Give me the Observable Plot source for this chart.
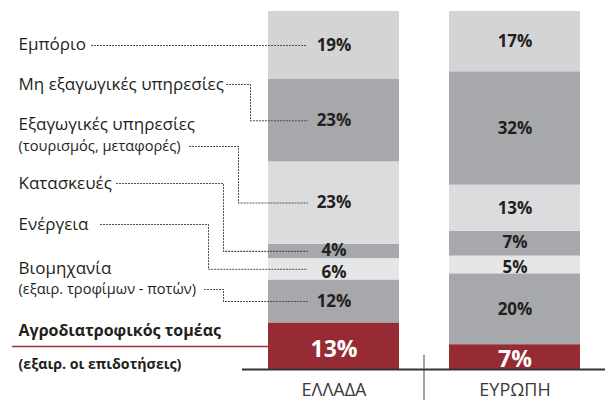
<!DOCTYPE html>
<html><head><meta charset="utf-8">
<script src="https://cdn.jsdelivr.net/npm/d3@7"></script>
<script src="https://cdn.jsdelivr.net/npm/@observablehq/plot@0.6"></script>
<style>
html,body{margin:0;padding:0;background:#fff;}
#chart svg{display:block;}
</style></head><body><div id="chart"></div>
<script>
// ---- data (stack order: bottom to top) ----
const regions = ["ΕΛΛΑΔΑ", "ΕΥΡΩΠΗ"];
const sectors = ["Αγροδιατροφικός τομέας", "Βιομηχανία", "Ενέργεια", "Κατασκευές", "Εξαγωγικές υπηρεσίες", "Μη εξαγωγικές υπηρεσίες", "Εμπόριο"];
const sectorNotes = ["(εξαιρ. οι επιδοτήσεις)", "(εξαιρ. τροφίμων - ποτών)", "", "", "(τουρισμός, μεταφορές)", "", ""];
const greece = [13, 12, 6, 4, 23, 23, 19];
const europe = [7, 20, 5, 7, 13, 32, 17];

// ---- styles ----
const segmentColors = ["#962b33", "#a7a8ab", "#e6e6e8", "#a7a8ab", "#dcdcde", "#a7a8ab", "#d4d4d6"];
const labelShift = [3, 0, 3, -1, 0, 0, 0]; // small vertical nudges of the value labels
const ink = "#231f20";
const font = "Open Sans";

const W = 608, H = 400;
const xOpts = {type: "band", domain: regions, range: [242, 605], paddingInner: 50 / 181, paddingOuter: 25.5 / 181, align: 0.5};
const yOpts = {domain: [0, 1], range: [369, 11]};
const xS = Plot.scale({x: xOpts});
const yS = Plot.scale({y: yOpts});
// Plot shifts marks by half a band when x is a band scale; compensate for unscaled annotation x
const bandShift = xS.bandwidth / 2;

const rows = regions.flatMap((r, ri) => sectors.map((s, i) => ({
  region: r, sector: s, idx: i, value: [greece, europe][ri][i]
})));

// left-hand label layout (pixel rows), leader start & elbow x
const layout = [
  {idx: 6, y: 44, start: 91, elbow: null},
  {idx: 5, y: 84, start: 226, elbow: 250},
  {idx: 4, y: 124, noteY: 146, start: 189, elbow: 238},
  {idx: 3, y: 183, start: 116, elbow: 223},
  {idx: 2, y: 224, start: 100, elbow: 208},
  {idx: 1, y: 268, noteY: 289, start: 204, elbow: 223},
  {idx: 0, y: 330, noteY: 364, bold: true}
];

const total = d3.sum(greece);
const cum = d3.cumsum(greece);
const centerPx = i => yS.apply((cum[i] - greece[i] / 2) / total);
const gLeft = xS.apply(regions[0]);
const gCenter = gLeft + xS.bandwidth / 2;
const leaderEnd = gCenter - 26;
const sepX = (xS.apply(regions[0]) + xS.bandwidth + xS.apply(regions[1])) / 2;

const labelRows = [], boldRows = [];
const leaders = [];
for (const L of layout) {
  const target = L.bold ? boldRows : labelRows;
  target.push({text: sectors[L.idx], y: L.y, size: L.bold ? 16 : 17});
  if (sectorNotes[L.idx]) target.push({text: sectorNotes[L.idx], y: L.noteY, size: L.bold ? 14.2 : 14.6});
  if (L.idx === 0) continue;
  const ty = centerPx(L.idx);
  const ly = L.noteY ?? L.y;
  const pts = L.elbow == null
    ? [[L.start, ty], [leaderEnd, ty]]
    : [[L.start, ly], [L.elbow, ly], [L.elbow, ty], [leaderEnd, ty]];
  pts.forEach(([px, py]) => leaders.push({k: L.idx, px: px - bandShift, py}));
}
const redLine = [{px: 12 - bandShift, py: 346}, {px: gLeft - bandShift, py: 346}];
const sep = [{px: sepX - bandShift, py1: 355, py2: 400}];
const leftX = 18 - bandShift;

const valueText = (sel, opts) => Plot.text(rows, Plot.stackY({x: "region", y: "value", offset: "normalize",
  text: d => sel(d) ? d.value + "%" : null, ...opts}));

const chart = Plot.plot({
  width: W, height: H,
  marginTop: 11, marginBottom: 31, marginLeft: 242, marginRight: 3,
  style: {fontFamily: font, background: "#fff"},
  x: {...xOpts, axis: null},
  y: {...yOpts, axis: null},
  color: {domain: sectors, range: segmentColors},
  marks: [
    Plot.barY(rows, Plot.stackY({x: "region", y: "value", fill: "sector", offset: "normalize"})),
    Plot.line(leaders, {x: {value: "px", scale: null}, y: {value: "py", scale: null}, z: "k",
      stroke: "#4a4a4a", strokeWidth: 1.1, strokeDasharray: "1.1 1.9", curve: "linear"}),
    Plot.line(redLine, {x: {value: "px", scale: null}, y: {value: "py", scale: null}, stroke: "#a3323b", strokeWidth: 1.6}),
    ...[1, 2, 3, 4, 5, 6].map(k => valueText(d => d.idx === k, {fill: ink, fontSize: 17, fontWeight: 700, dy: labelShift[k]})),
    valueText(d => d.idx === 0, {fill: "#fff", fontSize: 23, fontWeight: 700, dy: 3}),
    Plot.text(labelRows, {x: {value: () => leftX, scale: null}, y: {value: "y", scale: null}, text: "text",
      textAnchor: "start", fill: ink, fontSize: "size", fontWeight: 400}),
    Plot.text(boldRows, {x: {value: () => leftX, scale: null}, y: {value: "y", scale: null}, text: "text",
      textAnchor: "start", fill: ink, fontSize: "size", fontWeight: 700}),
    Plot.ruleY([0], {stroke: "#333", strokeWidth: 2}),
    Plot.ruleX(sep, {x: {value: "px", scale: null}, y1: {value: "py1", scale: null}, y2: {value: "py2", scale: null}, stroke: "#444", strokeWidth: 1}),
    Plot.text(regions, {x: d => d, frameAnchor: "bottom", dy: 26, text: d => d, fill: "#3a3a3a", fontSize: 18, fontWeight: 400})
  ]
});
document.getElementById("chart").appendChild(chart);
</script></body></html>
